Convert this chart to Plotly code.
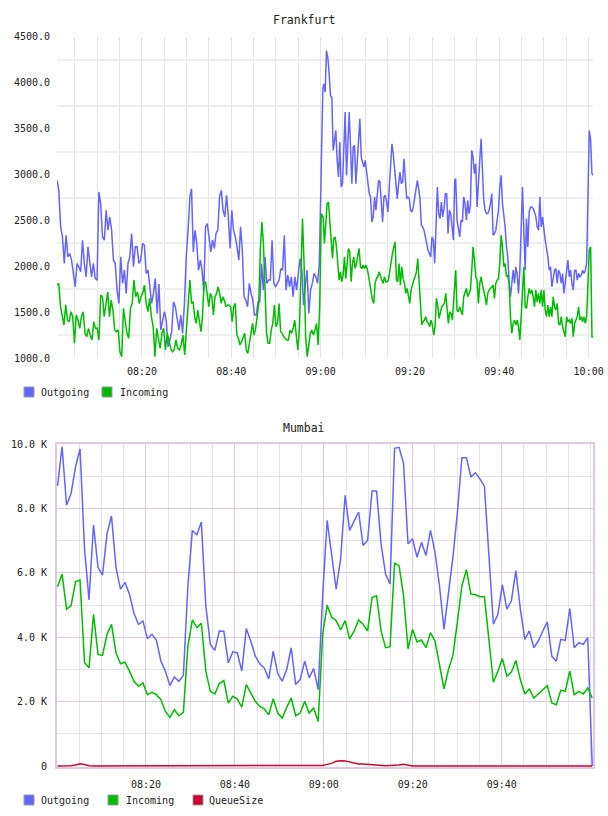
import pandas as pd
import plotly.graph_objects as go

# ---------------- data ----------------
BASE = pd.Timestamp("2000-01-01 08:00")

# Frankfurt (sampled roughly every 25 s), split into four reading windows
FRA_OUT_1 = [2937, 2828, 2430, 2321, 2032, 2339, 2104, 2140, 2068, 1923,
             1778, 2032, 1996, 1941, 2285, 2032, 1887, 2213, 2032, 1887,
             2032, 1869, 1850, 2810, 2683, 2321, 2285, 2611, 2394, 2539,
             2394, 2068, 2032, 1742, 1597, 2104, 1814, 1959, 1706, 2032,
             2104, 2358, 1996, 2213, 2213, 2032, 2068, 2249, 2231, 1923,
             1959, 1742, 1597, 1706, 1869, 1489, 1807, 1308, 1416, 1507,
             1416, 1127, 1199, 1290, 1615, 1561, 1434, 1308, 1471, 1272,
             1597, 2104, 2394, 2756]
FRA_IN_1 = [1796, 1815, 1561, 1453, 1362, 1579, 1416, 1398, 1507, 1453,
            1163, 1471, 1416, 1326, 1453, 1507, 1272, 1235, 1326, 1253,
            1199, 1398, 1326, 1326, 1199, 1688, 1670, 1453, 1615, 1724,
            1453, 1633, 1525, 1308, 1290, 1308, 1072, 1018, 1543, 1416,
            1272, 1217, 1543, 1597, 1851, 1670, 1724, 1597, 1670, 1706,
            1796, 1597, 1507, 1652, 1453, 1344, 1018, 1326, 1235, 1109,
            1272, 1326, 1091, 1272, 1199, 1109, 1072, 1091, 1199, 1109,
            1091, 1145, 1253, 1036, 1308, 1561, 1851]
FRA_OUT_2 = [2846, 2158, 2394, 2249, 1959, 2068, 1959, 1724, 2430, 2466,
             2321, 2158, 2285, 2195, 2358, 2394, 2756, 2828, 2611, 2539,
             2774, 2539, 2195, 2611, 2394, 2321, 2213, 2068, 2430, 2177,
             1670, 1633, 1561, 1815, 1706, 1633, 1471, 1471, 1615, 1615,
             2032, 1742, 2104, 1815, 1851, 1851, 2285, 1815, 1778, 1815,
             1851, 1977, 1959, 2339, 1742, 1905, 1778, 1887, 1670, 1887,
             1742, 1923, 2086, 1959, 1579, 1800, 1959, 1489, 1742, 1815,
             1923, 1887, 1815, 2032, 2937, 3932]
FRA_IN_2 = [1597, 1615, 1453, 1380, 1525, 1416, 1290, 1453, 1815, 1833,
            1670, 1561, 1706, 1670, 1471, 1670, 1706, 1778, 1706, 1597,
            1670, 1633, 1561, 1579, 1579, 1561, 1398, 1561, 1597, 1253,
            1217, 1145, 1181, 1235, 1272, 1091, 1054, 1163, 1253, 1380,
            1253, 1326, 1453, 1597, 2177, 2484, 2249, 1633, 1272, 1163,
            1163, 1308, 1380, 1579, 1344, 1380, 1597, 1290, 1272, 1235,
            1217, 1199, 1199, 1308, 1272, 1326, 1416, 1235, 1091, 1308,
            1959, 2520, 2032, 1235, 1018, 1163, 1272, 1308, 1253, 1308,
            1380, 1145, 1561, 2575, 2539]
FRA_OUT_3 = [3987, 3896, 4349, 4276, 4095, 3860, 3842, 3262, 3371, 3480,
             3154, 2973, 3353, 2864, 2900, 3335, 3679, 2991, 3407, 3679,
             3299, 2900, 3299, 3317, 2900, 3190, 3371, 3606, 3190, 3136,
             3082, 3154, 3009, 2864, 2792, 2756, 2484, 2539, 2756, 2611,
             2792, 2937, 2919, 2683, 2484, 2756, 2774, 2701, 2593, 2864,
             3118, 3335, 3226, 3045, 2864, 2738, 2900, 3027, 2900, 2919,
             3172, 2955, 2738, 2756, 2738, 2611, 2593, 2647, 2756, 2828,
             2937, 2846, 2738, 2448, 2430, 2394, 2321, 2213, 2177, 2140,
             2104, 2321, 2285, 2032, 2358, 2864, 2575, 2520, 2701, 2539,
             2629, 2792, 2792, 2358, 2611, 2575, 2430, 2285, 2937]
FRA_IN_3 = [2539, 2249, 2539, 2684, 2701, 2466, 2249, 2086, 2303, 2321,
            2213, 2032, 1851, 1941, 1833, 1905, 2104, 1869, 2032, 2195,
            2158, 1833, 2032, 2104, 1977, 2032, 2122, 2195, 1996, 1977,
            2014, 1977, 2014, 1977, 1905, 1815, 1706, 1633, 1597, 1815,
            1869, 1887, 1941, 1887, 1851, 1815, 1887, 1833, 1833, 1851,
            1959, 2068, 2140, 2213, 2267, 1851, 1833, 2032, 1796, 1996,
            1869, 1815, 1706, 1760, 1670, 1597, 1742, 1815, 1851, 1887,
            1941, 2086, 1851, 1525, 1362, 1398, 1416, 1453, 1398, 1380,
            1344, 1416, 1362, 1253, 1344, 1652, 1579, 1434, 1489, 1561,
            1579, 1597, 1706, 1525, 1380, 1507, 1489, 1416, 1670, 1923]
FRA_OUT_4 = [2955, 2502, 2394, 2321, 2502, 2484, 2756, 2683, 2502, 2720,
             2575, 2665, 3263, 3190, 3009, 3118, 2647, 2973, 3154, 3389,
             3082, 2720, 2611, 2575, 2575, 2611, 2683, 2792, 2339, 2358,
             2394, 2502, 2611, 2864, 2991, 2683, 2557, 2430, 2213, 2104,
             1815, 1670, 1815, 1959, 1815, 1996, 1923, 1706, 1959, 2539,
             2864, 2394, 1959, 2520, 2213, 2593, 2647, 2647, 2629, 2593,
             2539, 2430, 2394, 2756, 2430, 2539, 2394, 2285, 2195, 2104,
             1959, 1996, 1778, 1887, 1959, 1977, 1815, 1959, 1923, 1815,
             1923, 1706, 1815, 1923, 2068, 1887, 1959, 1815, 1742, 1959,
             1959, 1851, 1923, 1887, 1905, 1959, 1923, 1959, 2032, 2756,
             3480, 3371, 3009, 2991]
FRA_IN_4 = [1959, 1525, 1507, 1561, 1525, 1471, 1670, 1706, 1760, 1670,
            1706, 1742, 1959, 2213, 2068, 1887, 1851, 1597, 1815, 1887,
            1796, 1742, 1670, 1579, 1706, 1742, 1760, 1778, 1796, 1652,
            1815, 1851, 1869, 2032, 2339, 2213, 1996, 2032, 1887, 1905,
            1815, 1453, 1272, 1380, 1416, 1362, 1416, 1344, 1199, 1453,
            1815, 1996, 1561, 1543, 1670, 1760, 1706, 1742, 1670, 1561,
            1742, 1615, 1706, 1597, 1742, 1561, 1742, 1525, 1453, 1579,
            1453, 1561, 1453, 1670, 1561, 1525, 1597, 1380, 1362, 1453,
            1344, 1290, 1235, 1453, 1398, 1416, 1380, 1434, 1235, 1380,
            1416, 1453, 1561, 1416, 1453, 1398, 1453, 1380, 1453, 1851,
            2177, 2213, 1235, 1235]
# start / end minute (after 08:00) of each reading window
FRA_OUT_SPAN = [(0.98, 30.73), (31.10, 60.49), (60.71, 90.02), (90.24, 121.04)]
FRA_IN_SPAN = [(0.98, 30.73), (31.10, 60.49), (60.56, 90.09), (90.24, 121.04)]
FRA_TICKS = ["08:20", "08:40", "09:00", "09:20", "09:40", "10:00"]
FRA_YTICKS = [1000, 1500, 2000, 2500, 3000, 3500, 4000, 4500]

# Mumbai (one sample per minute)
MUM_SPAN = (0.13, 120.36)
MUM_OUT = [8708, 9928, 8104, 8469, 9302, 9853, 6750, 5166, 7500, 6177,
           5937, 7218, 7771, 6177, 5500, 5708, 5343, 4750, 4406, 4510,
           3958, 4094, 3906, 3260, 2948, 2500, 2771, 2635, 2813, 5600,
           7323, 7188, 7583, 4979, 3781, 3594, 4198, 4188, 3208, 3552,
           3521, 2948, 4271, 3885, 3417, 3177, 3052, 2708, 3573, 2875,
           2635, 3000, 3677, 2531, 2688, 3260, 2740, 3031, 2375, 5300,
           7635, 6541, 5500, 6437, 8417, 7323, 7635, 7896, 6854, 7010,
           8552, 8552, 6906, 5969, 5656, 9875, 9906, 9406, 6906, 7063,
           6490, 6958, 6541, 7323, 6646, 5604, 4250, 5300, 6500, 7900,
           9583, 9583, 8990, 9115, 8927, 8698, 6500, 4406, 4719, 5635,
           4875, 5135, 6073, 4875, 3937, 4198, 3677, 3885, 4198, 4479,
           3417, 3260, 3937, 3906, 4896, 3677, 3833, 3781, 3990, 0]
MUM_IN = [5573, 5969, 4875, 4979, 5729, 5781, 3208, 3052, 4719, 3469,
          3438, 4094, 4406, 3521, 3177, 3229, 2948, 2635, 2479, 2583,
          2219, 2292, 2219, 2063, 1698, 1510, 1750, 1563, 1667, 3729,
          4542, 4302, 4438, 2948, 2323, 2240, 2563, 2656, 1958, 2167,
          2083, 1833, 2531, 2250, 2010, 1854, 1781, 1594, 2094, 1646,
          1490, 1823, 2115, 1563, 1646, 2010, 1646, 1802, 1385, 4100,
          5000, 4625, 4521, 4229, 4521, 3948, 4198, 4542, 4406, 4198,
          5240, 5292, 4198, 3677, 3708, 6302, 6229, 5300, 3646, 4250,
          3854, 3917, 3677, 4146, 3885, 3156, 2396, 3000, 3438, 4500,
          5604, 6104, 5344, 5323, 5260, 5260, 4000, 2604, 2948, 3344,
          2792, 2917, 3281, 2688, 2240, 2396, 2115, 2250, 2396, 2500,
          1958, 1906, 2354, 2323, 2948, 2219, 2323, 2240, 2427, 2115]
MUM_QUEUE = [0, 0, 0, 10, 30, 70, 50, 10, 0, 0,
             0, 0, 0, 0, 0, 0, 0, 0, 0, 0,
             0, 0, 0, 0, 0, 0, 0, 0, 0, 0,
             0, 0, 0, 0, 0, 0, 0, 0, 0, 0,
             0, 0, 0, 0, 0, 0, 0, 0, 0, 0,
             0, 0, 0, 0, 0, 0, 0, 0, 0, 20,
             52, 83, 146, 167, 160, 120, 83, 62, 62, 52,
             31, 20, 10, 10, 20, 20, 31, 52, 20, 0,
             0, 0, 0, 0, 0, 0, 0, 0, 0, 0,
             0, 0, 0, 0, 0, 10, 20, 20, 10, 0,
             0, 0, 0, 0, 0, 0, 0, 0, 0, 0,
             0, 0, 0, 0, 0, 0, 0, 0, 0, 0]
MUM_TICKS = ["08:20", "08:40", "09:00", "09:20", "09:40"]
MUM_YTICKS = [0, 2000, 4000, 6000, 8000, 10000]
MUM_YTEXT = ["0", "2.0 K", "4.0 K", "6.0 K", "8.0 K", "10.0 K"]

# ---------------- styles ----------------
C_OUT, C_IN, C_Q = "#6464ff", "#00bb00", "#cc0033"
FONT = "DejaVu Sans Mono, monospace"
GRID = "#e4e4e4"
HGRID = "#efefef"
PURPLE = "#dfc8e2"
W, H = 608, 816


def minute(m):
    return BASE + pd.Timedelta(minutes=m)


def span_times(t0, t1, n):
    return [minute(t0 + (t1 - t0) * i / (n - 1)) for i in range(n)]


def hhmm(s):
    h, m = s.split(":")
    return minute(int(h) * 60 + int(m) - 480)


def px_x(x):
    return x / W


def px_y(y):
    return 1 - y / H


fra_out_x, fra_out_y, fra_in_x, fra_in_y = [], [], [], []
for (a, b), vals in zip(FRA_OUT_SPAN, [FRA_OUT_1, FRA_OUT_2, FRA_OUT_3, FRA_OUT_4]):
    fra_out_x += span_times(a, b, len(vals))
    fra_out_y += vals
for (a, b), vals in zip(FRA_IN_SPAN, [FRA_IN_1, FRA_IN_2, FRA_IN_3, FRA_IN_4]):
    fra_in_x += span_times(a, b, len(vals))
    fra_in_y += vals
mum_x = span_times(MUM_SPAN[0], MUM_SPAN[1], len(MUM_OUT))

fig = go.Figure()
fig.add_trace(go.Scatter(x=fra_out_x, y=fra_out_y, mode="lines", name="Outgoing",
                         line=dict(color=C_OUT, width=1.5), xaxis="x", yaxis="y", showlegend=False))
fig.add_trace(go.Scatter(x=fra_in_x, y=fra_in_y, mode="lines", name="Incoming",
                         line=dict(color=C_IN, width=1.5), xaxis="x", yaxis="y", showlegend=False))
fig.add_trace(go.Scatter(x=mum_x, y=MUM_OUT, mode="lines", name="Outgoing",
                         line=dict(color=C_OUT, width=1.5), xaxis="x2", yaxis="y2", showlegend=False))
fig.add_trace(go.Scatter(x=mum_x, y=MUM_IN, mode="lines", name="Incoming",
                         line=dict(color=C_IN, width=1.5), xaxis="x2", yaxis="y2", showlegend=False))
fig.add_trace(go.Scatter(x=mum_x, y=MUM_QUEUE, mode="lines", name="QueueSize",
                         line=dict(color=C_Q, width=1.5), xaxis="x2", yaxis="y2", showlegend=False))

tickfont = dict(family=FONT, size=10, color="#222")
xdom = [px_x(57), px_x(593.3)]

fig.update_layout(
    width=W, height=H, margin=dict(l=0, r=0, t=0, b=0, autoexpand=False),
    paper_bgcolor="white", plot_bgcolor="white",
    xaxis=dict(domain=xdom, anchor="y", type="date", automargin=False,
               range=[minute(FRA_OUT_SPAN[0][0]), minute(FRA_OUT_SPAN[-1][1])],
               tickmode="array", tickvals=[hhmm(t) for t in FRA_TICKS], ticktext=FRA_TICKS,
               showgrid=True, gridcolor=GRID, gridwidth=1,
               minor=dict(tick0=BASE, dtick=5 * 60 * 1000, showgrid=True, gridcolor=GRID, gridwidth=1),
               showline=False, zeroline=False, ticks="", ticklabelstandoff=6, tickfont=tickfont),
    yaxis=dict(domain=[px_y(358.3), px_y(36.7)], anchor="x", range=[1000, 4500], automargin=False,
               tickmode="array", tickvals=FRA_YTICKS, ticktext=[f"{v}.0" for v in FRA_YTICKS],
               showgrid=False,
               minor=dict(tick0=1250, dtick=500, showgrid=True, gridcolor=HGRID, gridwidth=2),
               showline=False, zeroline=False, ticks="", ticklabelstandoff=6, tickfont=tickfont),
    xaxis2=dict(domain=xdom, anchor="y2", type="date", automargin=False,
                range=[BASE, minute(120.6)],
                tickmode="array", tickvals=[hhmm(t) for t in MUM_TICKS], ticktext=MUM_TICKS,
                showgrid=True, gridcolor=PURPLE, gridwidth=1,
                minor=dict(tick0=BASE, dtick=5 * 60 * 1000, showgrid=True, gridcolor=GRID, gridwidth=1),
                showline=True, mirror=True, linecolor=PURPLE, linewidth=2, layer="below traces",
                zeroline=False, ticks="", ticklabelstandoff=7, tickfont=tickfont),
    yaxis2=dict(domain=[px_y(767), px_y(444.3)], anchor="x2", range=[-30, 10000], automargin=False,
                tickmode="array", tickvals=MUM_YTICKS, ticktext=MUM_YTEXT,
                showgrid=True, gridcolor=PURPLE, gridwidth=1,
                minor=dict(tick0=1000, dtick=2000, showgrid=True, gridcolor=GRID, gridwidth=1),
                showline=True, mirror=True, linecolor=PURPLE, linewidth=2, layer="below traces",
                zeroline=False, ticks="", ticklabelstandoff=6, tickfont=tickfont),
    showlegend=False,
)

titlefont = dict(family=FONT, size=11.5, color="#222")
fig.add_annotation(text="Frankfurt", xref="paper", yref="paper", x=0.5, y=px_y(20),
                   xanchor="center", yanchor="middle", showarrow=False, font=titlefont)
fig.add_annotation(text="Mumbai", xref="paper", yref="paper", x=0.5, y=px_y(428),
                   xanchor="center", yanchor="middle", showarrow=False, font=titlefont)

# legends: coloured squares with labels
legfont = dict(family=FONT, size=10, color="#222")
legends = [
    (392, [(24, 39, C_OUT, "Outgoing"), (102, 118, C_IN, "Incoming")]),
    (800, [(24, 39, C_OUT, "Outgoing"), (108, 124, C_IN, "Incoming"), (193, 207, C_Q, "QueueSize")]),
]
for yc, items in legends:
    for sx, tx, col, name in items:
        fig.add_shape(type="rect", xref="paper", yref="paper",
                      x0=px_x(sx), x1=px_x(sx + 10), y0=px_y(yc + 5), y1=px_y(yc - 5),
                      fillcolor=col, line=dict(color="#9a9a9a", width=1))
        fig.add_annotation(text=name, xref="paper", yref="paper", x=px_x(tx), y=px_y(yc),
                           xanchor="left", yanchor="middle", showarrow=False, font=legfont)

fig.write_html("out.html")
